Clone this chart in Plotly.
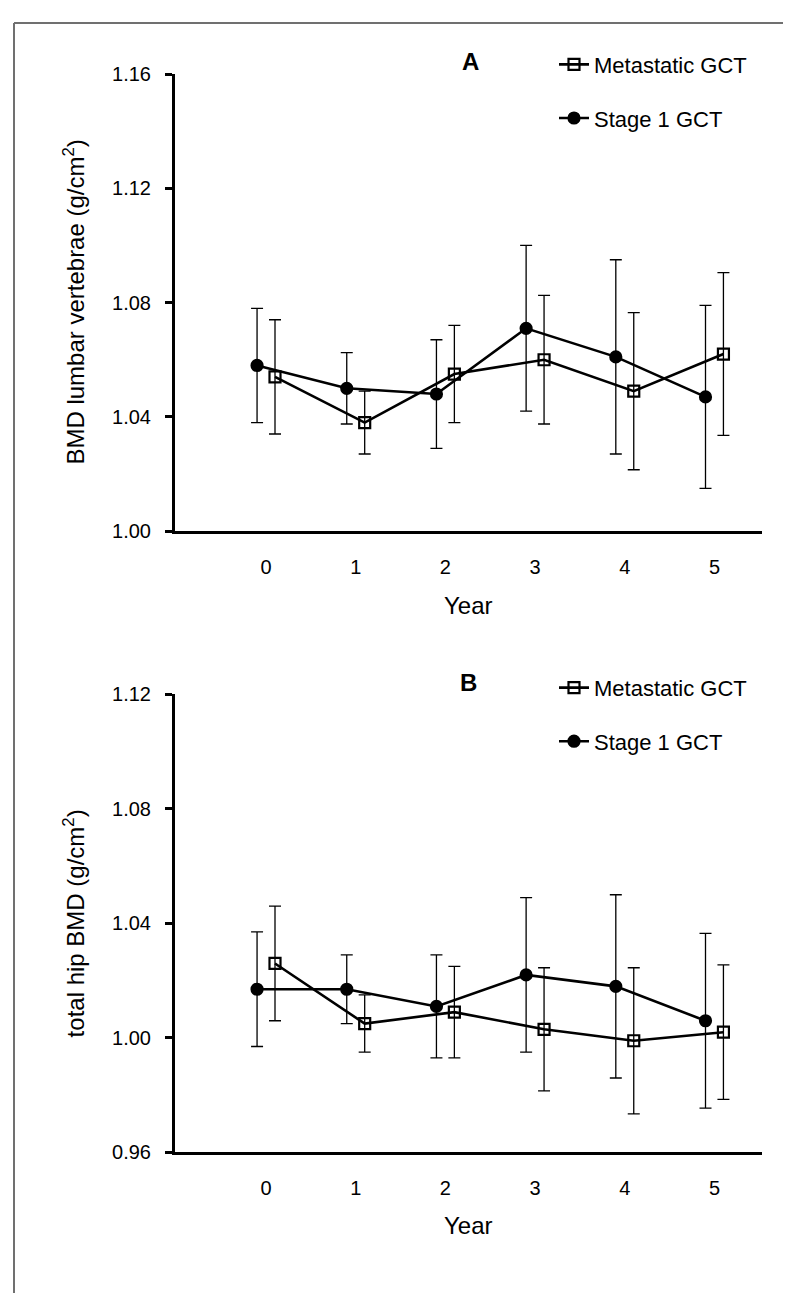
import plotly.graph_objects as go

W, H = 791, 1296

years = [0, 1, 2, 3, 4, 5]
year_labels = ["0", "1", "2", "3", "4", "5"]

# Panel A: BMD lumbar vertebrae (g/cm2)
a_stage1 = [1.058, 1.050, 1.048, 1.071, 1.061, 1.047]
a_stage1_sd = [0.020, 0.0125, 0.019, 0.029, 0.034, 0.032]
a_meta = [1.054, 1.038, 1.055, 1.060, 1.049, 1.062]
a_meta_sd = [0.020, 0.011, 0.017, 0.0225, 0.0275, 0.0285]

# Panel B: total hip BMD (g/cm2)
b_stage1 = [1.017, 1.017, 1.011, 1.022, 1.018, 1.006]
b_stage1_sd = [0.020, 0.012, 0.018, 0.027, 0.032, 0.0305]
b_meta = [1.026, 1.005, 1.009, 1.003, 0.999, 1.002]
b_meta_sd = [0.020, 0.010, 0.016, 0.0215, 0.0255, 0.0235]

a_ticks = [1.00, 1.04, 1.08, 1.12, 1.16]
b_ticks = [0.96, 1.00, 1.04, 1.08, 1.12]

OFF = 0.1  # horizontal dodge of the two series
FONT = "Liberation Sans, Arial, sans-serif"


def px_x(p):
    return p / W


def px_y(p):
    return 1 - p / H


fig = go.Figure()


def add_series(x, y, sd, name, symbol, xa, ya, legend):
    fig.add_trace(go.Scatter(
        x=[v + (OFF if symbol.startswith("square") else -OFF) for v in x],
        y=y,
        mode="lines+markers",
        name=name,
        legendgroup=name + legend,
        legend=legend,
        showlegend=True,
        line=dict(color="black", width=2.6),
        marker=dict(symbol=symbol, size=11, color="black",
                    line=dict(color="black", width=2.2)),
        error_y=dict(type="data", array=sd, visible=True, color="black",
                     thickness=1.3, width=6),
        xaxis=xa, yaxis=ya,
    ))


add_series(years, a_meta, a_meta_sd, "Metastatic GCT", "square-open", "x", "y", "legend")
add_series(years, a_stage1, a_stage1_sd, "Stage 1 GCT", "circle", "x", "y", "legend")
add_series(years, b_meta, b_meta_sd, "Metastatic GCT", "square-open", "x2", "y2", "legend2")
add_series(years, b_stage1, b_stage1_sd, "Stage 1 GCT", "circle", "x2", "y2", "legend2")

xd = [px_x(167), px_x(754)]
xrange = [-1.015, 5.53]

xaxis_common = dict(
    range=xrange, tickmode="array", tickvals=years, ticktext=year_labels,
    showline=True, linecolor="black", linewidth=3, ticks="",
    showgrid=False, zeroline=False, ticklabelstandoff=16,
    tickfont=dict(family=FONT, size=20, color="black"),
)
yaxis_common = dict(
    showline=True, linecolor="black", linewidth=3, ticks="outside",
    ticklen=7, tickwidth=2.5, tickcolor="black", showgrid=False,
    zeroline=False, tickformat=".2f", ticklabelstandoff=10,
    tickfont=dict(family=FONT, size=20, color="black"),
)

legend_common = dict(
    xanchor="left", yanchor="top",
    font=dict(family=FONT, size=22, color="black"),
    bgcolor="rgba(0,0,0,0)", traceorder="grouped",
    tracegroupgap=22,
)

fig.update_layout(
    width=W, height=H,
    margin=dict(l=0, r=0, t=0, b=0),
    paper_bgcolor="white", plot_bgcolor="white",
    font=dict(family=FONT, color="black"),
    xaxis=dict(domain=xd, anchor="y", **xaxis_common),
    yaxis=dict(domain=[px_y(521), px_y(56)], anchor="x", range=[1.00, 1.16],
               tickvals=a_ticks, **yaxis_common),
    xaxis2=dict(domain=xd, anchor="y2", **xaxis_common),
    yaxis2=dict(domain=[px_y(1153), px_y(687)], anchor="x2", range=[0.96, 1.12],
                tickvals=b_ticks, **yaxis_common),
    legend=dict(x=px_x(546), y=px_y(25), **legend_common),
    legend2=dict(x=px_x(546), y=px_y(659), **legend_common),
    showlegend=True,
)

annots = [
    dict(text="<b>A</b>", x=px_x(462), y=px_y(43), size=24),
    dict(text="<b>B</b>", x=px_x(460), y=px_y(675), size=24),
    dict(text="Year", x=px_x(460), y=px_y(597), size=24),
    dict(text="Year", x=px_x(460), y=px_y(1227), size=24),
]
for a in annots:
    fig.add_annotation(text=a["text"], x=a["x"], y=a["y"], xref="paper", yref="paper",
                       xanchor="center", yanchor="middle", showarrow=False,
                       font=dict(family=FONT, size=a["size"], color="black"))

for txt, yc in [("BMD lumbar vertebrae (g/cm<sup>2</sup>)", 288.5),
                ("total hip BMD (g/cm<sup>2</sup>)", 920)]:
    fig.add_annotation(text=txt, x=px_x(66), y=px_y(yc), xref="paper", yref="paper",
                       xanchor="center", yanchor="middle", showarrow=False,
                       textangle=-90,
                       font=dict(family=FONT, size=24, color="black"))

# frame lines (left and top) of the figure panel
fig.add_shape(type="line", xref="paper", yref="paper",
              x0=px_x(6), x1=px_x(6), y0=0, y1=px_y(4),
              line=dict(color="#707070", width=2))
fig.add_shape(type="line", xref="paper", yref="paper",
              x0=px_x(6), x1=1, y0=px_y(4), y1=px_y(4),
              line=dict(color="#707070", width=2))

fig.write_html("out.html")
